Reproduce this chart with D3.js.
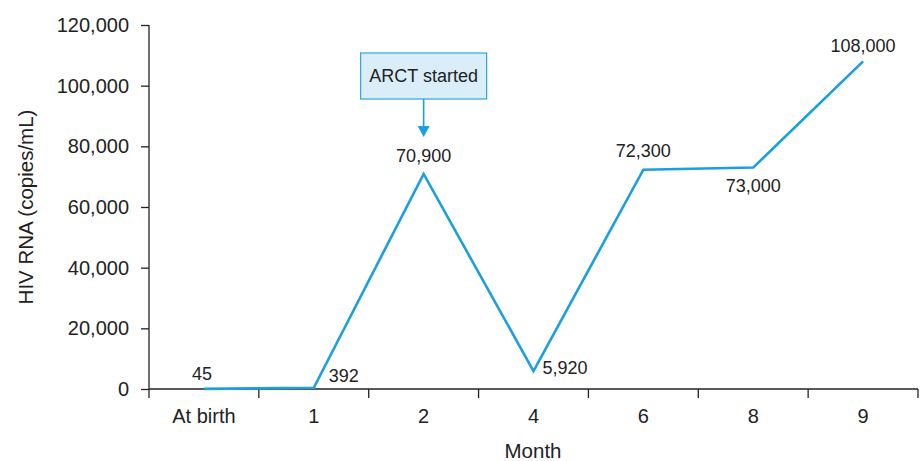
<!DOCTYPE html>
<html>
<head>
<meta charset="utf-8">
<script src="https://cdn.jsdelivr.net/npm/d3@7"></script>
<style>
  body { margin: 0; background: #fff; }
  .axis text { font-family: "Liberation Sans", Arial, sans-serif; font-size: 20px; fill: #222; }
  .axis path, .axis line { stroke: #222; stroke-width: 1.3; }
  .lbl { font-family: "Liberation Sans", Arial, sans-serif; font-size: 18px; fill: #222; }
  .title { font-family: "Liberation Sans", Arial, sans-serif; font-size: 20.5px; fill: #222; }
</style>
</head>
<body>
<div id="chart"></div>
<script>
// month categories and viral load
var months = ['At birth', '1', '2', '4', '6', '8', '9'];
var viralLoad = [45, 392, 70900, 5920, 72300, 73000, 108000];
var yTicks = [0, 20000, 40000, 60000, 80000, 100000, 120000];
// label offsets from each point (dx, dy) and anchor
var labelDx = [-2, 15, 0, 9, 0, 0, 0];
var labelDy = [-9, -6, -12, 3, -13, 24, -9];
var labelAnchor = ['middle', 'start', 'middle', 'start', 'middle', 'middle', 'middle'];

var width = 920, height = 461;
var margin = {top: 25, right: 2, bottom: 72, left: 149};

var svg = d3.select('#chart').append('svg')
	.attr('width', width)
	.attr('height', height);

var x = d3.scaleBand()
	.domain(months)
	.range([margin.left, width - margin.right]);

var y = d3.scaleLinear()
	.domain([0, 120000])
	.range([height - margin.bottom, margin.top]);

// x axis: ticks at band boundaries
var xAxis = svg.append('g')
	.attr('class', 'axis')
	.attr('transform', 'translate(0,' + y(0) + ')');
xAxis.append('line')
	.attr('x1', margin.left).attr('x2', width - margin.right);
var edges = months.map(function(m) { return x(m); }).concat([x(months[months.length - 1]) + x.bandwidth()]);
xAxis.selectAll('.tk').data(edges).enter().append('line')
	.attr('class', 'tk')
	.attr('x1', function(d) { return d; }).attr('x2', function(d) { return d; })
	.attr('y1', 0).attr('y2', 9);
xAxis.selectAll('.cat').data(months).enter().append('text')
	.attr('class', 'cat')
	.attr('x', function(d) { return x(d) + x.bandwidth() / 2; })
	.attr('y', 34)
	.attr('text-anchor', 'middle')
	.text(function(d) { return d; });

var yAxis = d3.axisLeft(y)
	.tickValues(yTicks)
	.tickSize(8)
	.tickPadding(12)
	.tickFormat(d3.format(','));
svg.append('g')
	.attr('class', 'axis')
	.attr('transform', 'translate(' + margin.left + ',0)')
	.call(yAxis)
	.call(function(g) { g.select('.domain').attr('d', 'M0,' + y(0) + 'V' + y(120000)); });

// titles
svg.append('text')
	.attr('class', 'title')
	.attr('x', 533).attr('y', 458)
	.attr('text-anchor', 'middle')
	.text('Month');
svg.append('text')
	.attr('class', 'title')
	.attr('transform', 'translate(33,' + (y(60000)) + ') rotate(-90)')
	.attr('text-anchor', 'middle')
	.text('HIV RNA (copies/mL)');

// the line
var cx = function(i) { return x(months[i]) + x.bandwidth() / 2; };
var line = d3.line()
	.x(function(d, i) { return cx(i); })
	.y(function(d) { return y(d); });

svg.append('path')
	.datum(viralLoad)
	.attr('fill', 'none')
	.attr('stroke', '#1a9fe0')
	.attr('stroke-width', 2.6)
	.attr('d', line);

// value labels
svg.selectAll('.lbl').data(viralLoad).enter().append('text')
	.attr('class', 'lbl')
	.attr('x', function(d, i) { return cx(i) + labelDx[i]; })
	.attr('y', function(d, i) { return y(d) + labelDy[i]; })
	.attr('text-anchor', function(d, i) { return labelAnchor[i]; })
	.text(function(d) { return d3.format(',')(d); });

// annotation for ARCT start at month 2
var ax = cx(2);
var ann = svg.append('g');
ann.append('rect')
	.attr('x', ax - 63).attr('y', 53)
	.attr('width', 126).attr('height', 46)
	.attr('fill', '#daeef9')
	.attr('stroke', '#2aa6e0')
	.attr('stroke-width', 1.2);
ann.append('text')
	.attr('class', 'lbl')
	.attr('x', ax).attr('y', 82)
	.attr('text-anchor', 'middle')
	.style('font-size', '18px')
	.text('ARCT started');
ann.append('line')
	.attr('x1', ax).attr('x2', ax)
	.attr('y1', 99).attr('y2', 128)
	.attr('stroke', '#1a9fe0')
	.attr('stroke-width', 1.6);
ann.append('path')
	.attr('d', 'M' + (ax - 6) + ',126 L' + (ax + 6) + ',126 L' + ax + ',137 Z')
	.attr('fill', '#1a9fe0');
</script>
</body>
</html>
